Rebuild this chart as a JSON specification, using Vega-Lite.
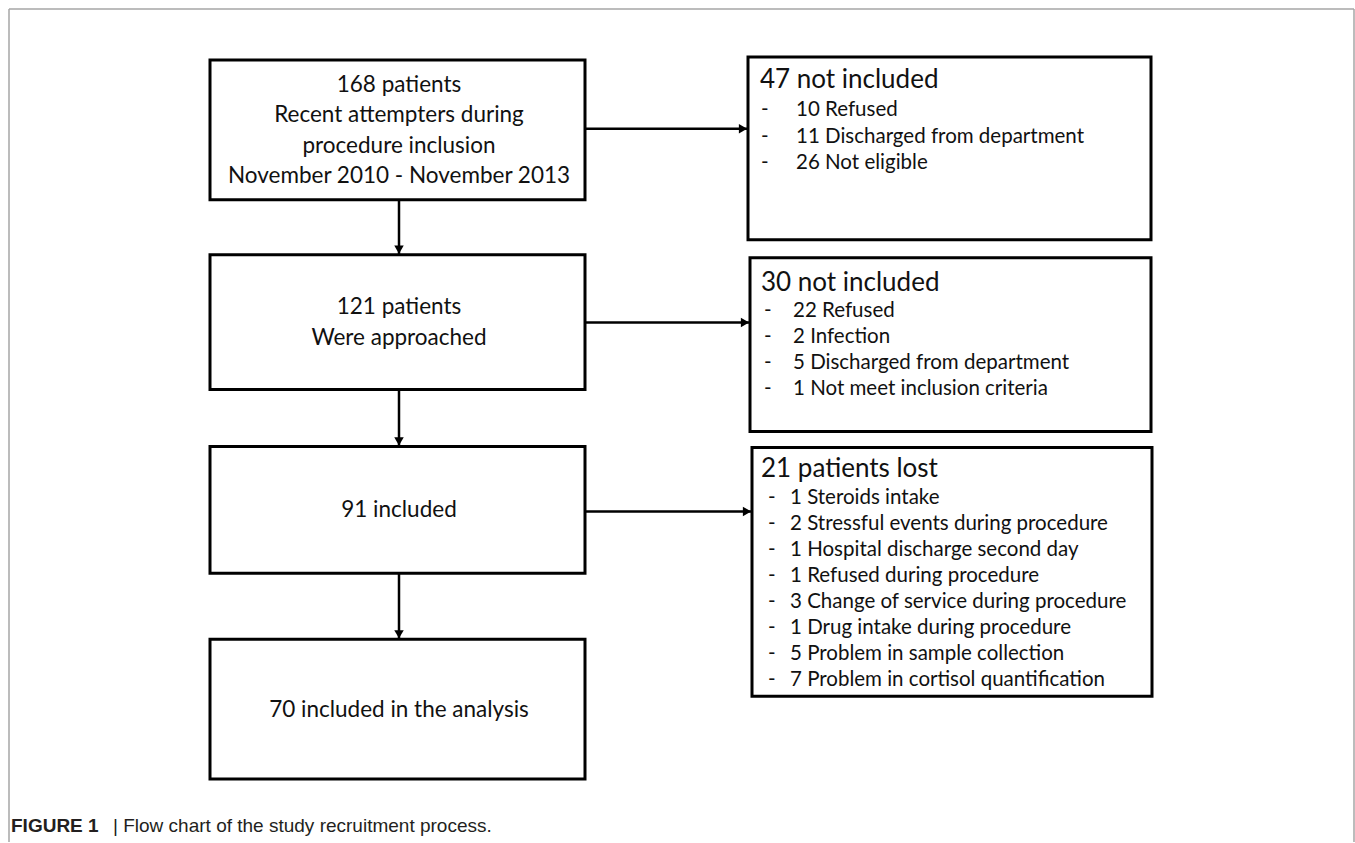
{
  "$schema": "https://vega.github.io/schema/vega-lite/v6.json",
  "width": 1355,
  "height": 843,
  "autosize": {"type": "fit", "contains": "padding"},
  "padding": 0,
  "background": "white",
  "config": {"view": {"stroke": null}},
  "datasets": {
    "frame": [
      {"x0": 9, "x1": 1354, "y0": 9, "y1": 9},
      {"x0": 9, "x1": 9, "y0": 9, "y1": 843},
      {"x0": 1354, "x1": 1354, "y0": 9, "y1": 843}
    ],
    "boxes": [
      {"id": "b1", "x0": 210, "x1": 585, "y0": 60, "y1": 200},
      {"id": "b2", "x0": 210, "x1": 585, "y0": 255, "y1": 390},
      {"id": "b3", "x0": 210, "x1": 585, "y0": 447, "y1": 574},
      {"id": "b4", "x0": 210, "x1": 585, "y0": 640, "y1": 780},
      {"id": "A", "x0": 748, "x1": 1151, "y0": 57, "y1": 240},
      {"id": "B", "x0": 750, "x1": 1151, "y0": 258, "y1": 432},
      {"id": "C", "x0": 752, "x1": 1152, "y0": 448, "y1": 697}
    ],
    "arrows": [
      {"dir": "down", "x0": 399, "x1": 399, "y0": 200, "y1": 255},
      {"dir": "down", "x0": 399, "x1": 399, "y0": 390, "y1": 447},
      {"dir": "down", "x0": 399, "x1": 399, "y0": 574, "y1": 640},
      {"dir": "right", "x0": 585, "x1": 748, "y0": 129, "y1": 129},
      {"dir": "right", "x0": 585, "x1": 750, "y0": 323, "y1": 323},
      {"dir": "right", "x0": 585, "x1": 752, "y0": 512, "y1": 512}
    ],
    "labels": [
      {"role": "center", "text": "168 patients", "x0": 399, "y0": 85},
      {"role": "center", "text": "Recent attempters during", "x0": 399, "y0": 115},
      {"role": "center", "text": "procedure inclusion", "x0": 399, "y0": 146},
      {"role": "center", "text": "November 2010 - November 2013", "x0": 399, "y0": 176},
      {"role": "center", "text": "121 patients", "x0": 399, "y0": 307},
      {"role": "center", "text": "Were approached", "x0": 399, "y0": 338},
      {"role": "center", "text": "91 included", "x0": 399, "y0": 511},
      {"role": "center", "text": "70 included in the analysis", "x0": 399, "y0": 711},
      {"role": "title", "text": "47 not included", "x0": 760, "y0": 80},
      {"role": "title", "text": "30 not included", "x0": 761, "y0": 283},
      {"role": "title", "text": "21 patients lost", "x0": 761, "y0": 470},
      {"role": "dash", "text": "-", "x0": 761, "y0": 110},
      {"role": "dash", "text": "-", "x0": 761, "y0": 137},
      {"role": "dash", "text": "-", "x0": 761, "y0": 163},
      {"role": "item", "text": "10 Refused", "x0": 796, "y0": 110},
      {"role": "item", "text": "11 Discharged from department", "x0": 796, "y0": 137},
      {"role": "item", "text": "26 Not eligible", "x0": 796, "y0": 163},
      {"role": "dash", "text": "-", "x0": 764, "y0": 311},
      {"role": "dash", "text": "-", "x0": 764, "y0": 337},
      {"role": "dash", "text": "-", "x0": 764, "y0": 363},
      {"role": "dash", "text": "-", "x0": 764, "y0": 389},
      {"role": "item", "text": "22 Refused", "x0": 793, "y0": 311},
      {"role": "item", "text": "2 Infection", "x0": 793, "y0": 337},
      {"role": "item", "text": "5 Discharged from department", "x0": 793, "y0": 363},
      {"role": "item", "text": "1 Not meet inclusion criteria", "x0": 793, "y0": 389},
      {"role": "dash", "text": "-", "x0": 768, "y0": 499},
      {"role": "dash", "text": "-", "x0": 768, "y0": 525},
      {"role": "dash", "text": "-", "x0": 768, "y0": 551},
      {"role": "dash", "text": "-", "x0": 768, "y0": 577},
      {"role": "dash", "text": "-", "x0": 768, "y0": 603},
      {"role": "dash", "text": "-", "x0": 768, "y0": 629},
      {"role": "dash", "text": "-", "x0": 768, "y0": 655},
      {"role": "dash", "text": "-", "x0": 768, "y0": 681},
      {"role": "item", "text": "1 Steroids intake", "x0": 790, "y0": 499},
      {"role": "item", "text": "2 Stressful events during procedure", "x0": 790, "y0": 525},
      {"role": "item", "text": "1 Hospital discharge second day", "x0": 790, "y0": 551},
      {"role": "item", "text": "1 Refused during procedure", "x0": 790, "y0": 577},
      {"role": "item", "text": "3 Change of service during procedure", "x0": 790, "y0": 603},
      {"role": "item", "text": "1 Drug intake during procedure", "x0": 790, "y0": 629},
      {"role": "item", "text": "5 Problem in sample collection", "x0": 790, "y0": 655},
      {"role": "item", "text": "7 Problem in cortisol quantification", "x0": 790, "y0": 681},
      {"role": "capbold", "text": "FIGURE 1", "x0": 11, "y0": 827},
      {"role": "cap", "text": "|  Flow chart of the study recruitment process.", "x0": 113, "y0": 827}
    ]
  },
  "encoding": {
    "x": {"field": "x0", "type": "quantitative", "axis": null, "scale": {"domain": [0, 1355], "nice": false, "zero": false}},
    "y": {"field": "y0", "type": "quantitative", "axis": null, "scale": {"domain": [0, 843], "nice": false, "zero": false, "reverse": true}}
  },
  "layer": [
    {
      "data": {"name": "frame"},
      "mark": {"type": "rule", "stroke": "#a6a6a6", "strokeWidth": 1.5},
      "encoding": {"x2": {"field": "x1"}, "y2": {"field": "y1"}}
    },
    {
      "data": {"name": "boxes"},
      "mark": {"type": "rect", "fill": "white", "stroke": "black", "strokeWidth": 3},
      "encoding": {"x2": {"field": "x1"}, "y2": {"field": "y1"}}
    },
    {
      "data": {"name": "arrows"},
      "mark": {"type": "rule", "stroke": "black", "strokeWidth": 2.5},
      "encoding": {"x2": {"field": "x1"}, "y2": {"field": "y1"}}
    },
    {
      "data": {"name": "arrows"},
      "transform": [{"filter": "datum.dir == 'down'"}],
      "mark": {"type": "point", "shape": "triangle-down", "filled": true, "color": "black", "size": 90, "opacity": 1, "yOffset": -5},
      "encoding": {"x": {"field": "x1"}, "y": {"field": "y1"}}
    },
    {
      "data": {"name": "arrows"},
      "transform": [{"filter": "datum.dir == 'right'"}],
      "mark": {"type": "point", "shape": "triangle-right", "filled": true, "color": "black", "size": 90, "opacity": 1, "xOffset": -5},
      "encoding": {"x": {"field": "x1"}, "y": {"field": "y1"}}
    },
    {
      "data": {"name": "labels"},
      "transform": [{"filter": "datum.role == 'center'"}],
      "mark": {"type": "text", "font": "Lato", "fontSize": 22.5, "align": "center", "baseline": "middle", "color": "#111111"},
      "encoding": {"text": {"field": "text"}}
    },
    {
      "data": {"name": "labels"},
      "transform": [{"filter": "datum.role == 'title'"}],
      "mark": {"type": "text", "font": "Lato", "fontSize": 26, "align": "left", "baseline": "middle", "color": "#111111"},
      "encoding": {"text": {"field": "text"}}
    },
    {
      "data": {"name": "labels"},
      "transform": [{"filter": "datum.role == 'item' || datum.role == 'dash'"}],
      "mark": {"type": "text", "font": "Lato", "fontSize": 20.5, "align": "left", "baseline": "middle", "color": "#111111"},
      "encoding": {"text": {"field": "text"}}
    },
    {
      "data": {"name": "labels"},
      "transform": [{"filter": "datum.role == 'capbold'"}],
      "mark": {"type": "text", "font": "Liberation Sans", "fontSize": 19, "fontWeight": "bold", "align": "left", "baseline": "middle", "color": "#231f20"},
      "encoding": {"text": {"field": "text"}}
    },
    {
      "data": {"name": "labels"},
      "transform": [{"filter": "datum.role == 'cap'"}],
      "mark": {"type": "text", "font": "Liberation Sans", "fontSize": 19, "align": "left", "baseline": "middle", "color": "#231f20"},
      "encoding": {"text": {"field": "text"}}
    }
  ]
}
